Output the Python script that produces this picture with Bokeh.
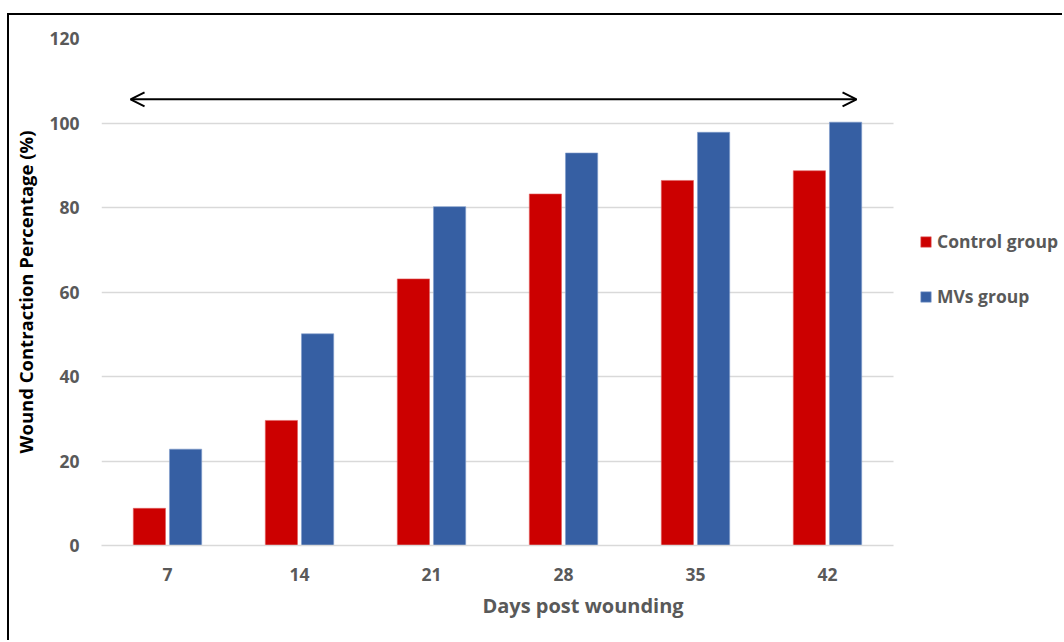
from bokeh.plotting import figure
from bokeh.models import (Range1d, FixedTicker, Legend, LegendItem, Arrow, OpenHead,
                          ColumnDataSource)
from bokeh.embed import file_html
from bokeh.resources import INLINE

days = ["7", "14", "21", "28", "35", "42"]
control = [8.8, 29.6, 63.1, 83.2, 86.4, 88.7]
mvs = [22.8, 50.1, 80.2, 92.9, 97.8, 100.2]
yticks = [0, 20, 40, 60, 80, 100, 120]

FONT = "Open Sans"
GREY = "#595959"
GRID = "#D9D9D9"

N = len(days)
W, H = 1055, 627
LEFT, RIGHT, TOP, BOTTOM = 92, 0, 23, 97
CAT_PX = 132.0  # pixel width of one category slot
x_end = (W - LEFT - RIGHT) / CAT_PX  # frame extends right to host the legend

xpos = [i + 0.5 for i in range(N)]
src = ColumnDataSource(dict(
    xc=[x - 0.137 for x in xpos],
    xm=[x + 0.137 for x in xpos],
    control=control, mvs=mvs))

p = figure(width=W, height=H, output_backend="svg", toolbar_location=None,
           x_range=Range1d(0, x_end), y_range=Range1d(0, 120),
           min_border_left=LEFT, min_border_right=RIGHT, min_border_top=TOP,
           min_border_bottom=BOTTOM)
p.margin = (13, 0, 0, 7)
p.styles = {"border-left": "2px solid black", "border-top": "2px solid black"}
p.outline_line_color = None
p.background_fill_color = "white"
p.border_fill_color = "white"

rc = p.vbar(x="xc", top="control", width=0.244, source=src, fill_color="#CC0000",
            line_color="#E06060", line_width=0.6)
rm = p.vbar(x="xm", top="mvs", width=0.244, source=src, fill_color="#365FA3",
            line_color="#7F9CCB", line_width=0.6)

# x axis
p.xaxis.bounds = (0, N)
p.xaxis.ticker = FixedTicker(ticks=xpos)
p.xaxis.major_label_overrides = {x: d for x, d in zip(xpos, days)}
p.xaxis.axis_line_color = GRID
p.xaxis.axis_line_width = 1.5
p.xaxis.major_tick_line_color = None
p.xaxis.minor_tick_line_color = None
p.xaxis.major_label_text_font = FONT
p.xaxis.major_label_text_font_size = "17.5px"
p.xaxis.major_label_text_font_style = "bold"
p.xaxis.major_label_text_color = GREY
p.xaxis.major_label_standoff = 16
p.xaxis.axis_label = "Days post wounding"
p.xaxis.axis_label_text_font = FONT
p.xaxis.axis_label_text_font_size = "20px"
p.xaxis.axis_label_text_font_style = "bold"
p.xaxis.axis_label_text_color = GREY
p.xaxis.axis_label_standoff = 8

# y axis
p.yaxis.ticker = FixedTicker(ticks=yticks)
p.yaxis.axis_line_color = None
p.yaxis.major_tick_line_color = None
p.yaxis.minor_tick_line_color = None
p.yaxis.major_label_text_font = FONT
p.yaxis.major_label_text_font_size = "17.5px"
p.yaxis.major_label_text_font_style = "bold"
p.yaxis.major_label_text_color = GREY
p.yaxis.major_label_standoff = 16
p.yaxis.axis_label = "Wound Contraction Percentage (%)"
p.yaxis.axis_label_text_font = FONT
p.yaxis.axis_label_text_font_size = "18.5px"
p.yaxis.axis_label_text_font_style = "bold"
p.yaxis.axis_label_text_color = "black"
p.yaxis.axis_label_standoff = 8

p.xgrid.grid_line_color = None
yg = p.ygrid[0]
if "cross_bounds" in yg.properties():
    yg.cross_bounds = (0, N)
    yg.grid_line_color = GRID
    yg.grid_line_width = 1.5
else:
    yg.grid_line_color = None
    p.segment(x0=[0] * len(yticks), x1=[N] * len(yticks), y0=yticks, y1=yticks,
              line_color=GRID, line_width=1.5, level="underlay")

# double-headed arrow
p.add_layout(Arrow(x_start=0.22, x_end=5.72, y_start=105.6, y_end=105.6,
                   line_color="black", line_width=2,
                   start=OpenHead(size=14, line_width=2, line_color="black"),
                   end=OpenHead(size=14, line_width=2, line_color="black")))

legend = Legend(items=[LegendItem(label="Control group", renderers=[rc]),
                       LegendItem(label="MVs group", renderers=[rm])],
                location=(818, 237), padding=0, margin=0, spacing=31,
                glyph_width=13, glyph_height=13, label_standoff=5,
                label_text_font=FONT, label_text_font_size="17.5px",
                label_text_font_style="bold", label_text_color=GREY,
                border_line_color=None, background_fill_alpha=0)
p.add_layout(legend)

open("out.html", "w").write(file_html(p, INLINE))
